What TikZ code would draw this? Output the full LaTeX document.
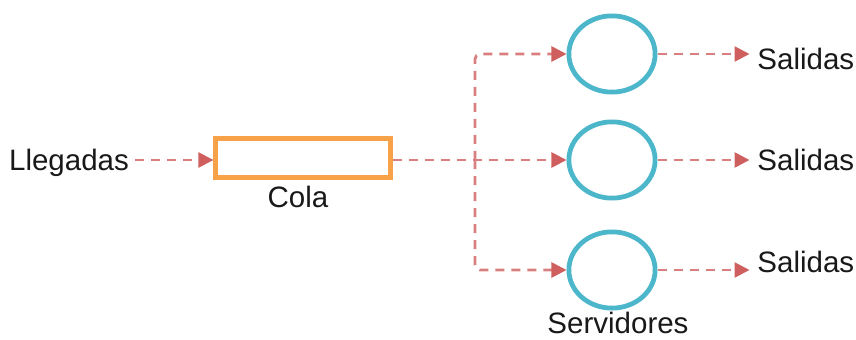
\documentclass[tikz,border=0pt]{standalone}
\usepackage{fontspec}
\setmainfont{Liberation Sans}
\usetikzlibrary{arrows.meta,shapes.geometric}
\definecolor{flowred}{HTML}{CF5F5F}
\definecolor{colaorange}{HTML}{F7A148}
\definecolor{servblue}{HTML}{4CB6CB}
\tikzset{
  flow/.style={draw=flowred!80, line width=1.1pt, dash pattern=on 3.6pt off 2.8pt,
    -{Triangle[length=6pt,width=6pt,color=flowred]}},
  colabox/.style={draw=colaorange, line width=1.7pt, fill=white,
    minimum width=70pt, minimum height=15.5pt, inner sep=0pt},
  servidor/.style={ellipse, draw=servblue, line width=1.9pt, fill=white,
    minimum width=34.5pt, minimum height=30.5pt, inner sep=0pt},
  etiqueta/.style={font=\fontsize{11.8}{14}\selectfont, text=black!90, inner sep=0pt}
}
\begin{document}
\begin{tikzpicture}[x=0.4pt,y=-0.4pt]
\useasboundingbox (0,0) rectangle (856,340);

\node[etiqueta] (lleg) at (69,163) {Llegadas};
\node[colabox] (cola) at (303,158) {};
\node[etiqueta] (colalbl) at (298,197) {Cola};
\coordinate (split) at (475,160);

\foreach \i/\y/\t in {1/54/59,2/160/160,3/270/262} {
  \node[servidor] (s\i) at (612,\y) {};
  \node[etiqueta, anchor=west] (sal\i) at (757,\t) {Salidas};
  \draw[flow] (s\i.east) -- ++(92,0);
}
\node[etiqueta] (servlbl) at (618,323) {Servidores};

\draw[flow] (lleg.east |- split) ++(6,0) -- (cola.west |- split);
\draw[flow] (cola.east |- split) -- (s2.west);
\draw[flow, rounded corners=2pt] (split) |- (s1.west);
\draw[flow, rounded corners=2pt] (split) |- (s3.west);
\end{tikzpicture}
\end{document}
